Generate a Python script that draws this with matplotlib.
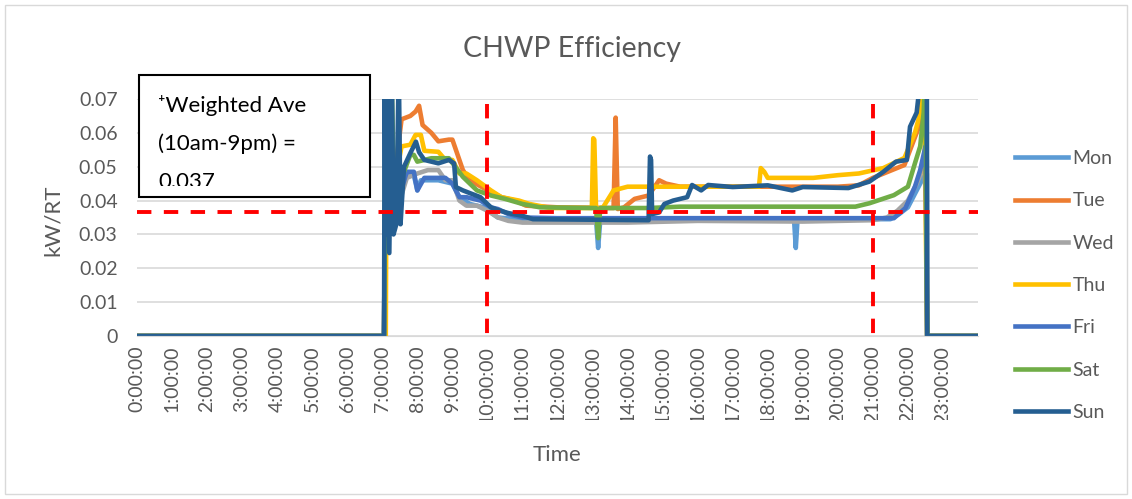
import numpy as np
import matplotlib
matplotlib.use('Agg')
import matplotlib.pyplot as plt
from matplotlib.patches import Rectangle
from matplotlib.transforms import Bbox, TransformedBbox

plt.rcParams['font.family'] = ['Lato', 'DejaVu Sans']

# time in hours, values in kW/RT (values above 0.07 are cut off by the axis)
mon_t = [0, 7.05, 7.1, 7.3, 7.5, 7.7, 7.9, 8.0, 8.1, 8.6, 9.0, 9.2, 9.5, 9.9, 10.3, 10.8, 13.1, 13.16, 13.22,
         18.75, 18.8, 18.85, 21.5, 21.75, 22.0, 22.25, 22.45, 22.54, 22.55, 24]
mon_v = [0, 0, 0.03, 0.036, 0.043, 0.0475, 0.0475, 0.043, 0.046, 0.046, 0.045, 0.041, 0.039, 0.038, 0.035, 0.0345,
         0.0343, 0.026, 0.0343, 0.0345, 0.026, 0.0345, 0.0345, 0.036, 0.038, 0.043, 0.047, 0.048, 0, 0]

tue_t = [0, 7.05, 7.1, 7.2, 7.55, 7.8, 7.95, 8.05, 8.15, 8.4, 8.6, 8.9, 9.0, 9.3, 9.45, 9.7, 10.1, 10.4, 10.8,
         11.1, 12.0, 13.6, 13.66, 13.72, 13.9, 14.2, 14.6, 14.9, 15.1, 15.5, 20.0, 20.6, 21.0, 21.9, 22.2,
         22.35, 22.5, 22.55, 24]
tue_v = [0, 0, 0.08, 0.035, 0.064, 0.065, 0.0663, 0.068, 0.0623, 0.060, 0.0575, 0.058, 0.058, 0.049, 0.0467,
         0.0448, 0.0425, 0.041, 0.040, 0.0385, 0.038, 0.0378, 0.0645, 0.0375, 0.038, 0.0405, 0.0415, 0.046,
         0.045, 0.0441, 0.0441, 0.0445, 0.0467, 0.0505, 0.0587, 0.0627, 0.08, 0, 0]

wed_t = [0, 7.05, 7.1, 7.2, 7.5, 7.7, 8.0, 8.3, 8.6, 8.8, 9.0, 9.2, 9.4, 9.7, 10.0, 10.3, 10.6, 11.0, 14.0,
         16.0, 19.0, 21.0, 21.4, 21.7, 22.0, 22.25, 22.45, 22.54, 22.55, 24]
wed_v = [0, 0, 0.08, 0.03, 0.04, 0.0467, 0.048, 0.049, 0.049, 0.046, 0.046, 0.040, 0.0385, 0.0385, 0.037,
         0.035, 0.034, 0.0335, 0.0335, 0.034, 0.0338, 0.0342, 0.035, 0.037, 0.040, 0.045, 0.050, 0.052, 0, 0]

thu_t = [0, 7.1, 7.13, 7.35, 7.55, 7.8, 7.95, 8.1, 8.2, 8.6, 8.8, 9.0, 9.2, 9.4, 9.7, 10.1, 10.4, 10.9, 11.2,
         11.8, 12.98, 13.02, 13.05, 13.1, 13.3, 13.6, 14.0, 17.75, 17.8, 17.9, 18.0, 19.3, 20.0, 20.6, 21.3,
         21.9, 22.2, 22.35, 22.45, 22.55, 24]
thu_v = [0, 0, 0.08, 0.045, 0.056, 0.0565, 0.0594, 0.0594, 0.0547, 0.0544, 0.052, 0.052, 0.048, 0.048, 0.046,
         0.043, 0.041, 0.040, 0.039, 0.0378, 0.0378, 0.0584, 0.058, 0.0375, 0.038, 0.043, 0.0441, 0.0441,
         0.0496, 0.0485, 0.0467, 0.0467, 0.0475, 0.048, 0.0496, 0.0526, 0.060, 0.0659, 0.08, 0, 0]

fri_t = [0, 7.05, 7.1, 7.2, 7.45, 7.7, 7.9, 8.0, 8.2, 8.8, 9.0, 9.2, 9.4, 9.8, 10.1, 10.3, 10.6, 11.0, 12.0,
         21.6, 21.93, 22.2, 22.35, 22.5, 22.55, 24]
fri_v = [0, 0, 0.08, 0.03, 0.04, 0.0485, 0.0485, 0.043, 0.0467, 0.0467, 0.045, 0.041, 0.041, 0.040, 0.038,
         0.0375, 0.036, 0.035, 0.0348, 0.0348, 0.0378, 0.0441, 0.049, 0.056, 0, 0]

sat_t = [0, 7.05, 7.1, 7.2, 7.26, 7.35, 7.6, 7.8, 7.9, 8.0, 8.4, 8.9, 9.3, 9.7, 10.1, 10.5, 11.0, 11.5, 13.1,
         13.16, 13.22, 14.6, 15.5, 20.5, 20.9, 21.6, 22.0, 22.2, 22.35, 22.45, 22.5, 22.55, 24]
sat_v = [0, 0, 0.08, 0.03, 0.08, 0.035, 0.048, 0.0535, 0.0535, 0.0515, 0.0525, 0.0525, 0.047, 0.043, 0.0415,
         0.0405, 0.039, 0.038, 0.0378, 0.0289, 0.0378, 0.0378, 0.0382, 0.0382, 0.0392, 0.0416, 0.0441, 0.051,
         0.056, 0.066, 0.08, 0, 0]

sun_t = [0, 7.05, 7.07, 7.09, 7.11, 7.2, 7.27, 7.32, 7.4, 7.47, 7.52, 7.62, 7.8, 7.96, 8.05, 8.2, 8.6, 8.9,
         9.05, 9.1, 9.3, 9.8, 10.1, 10.3, 10.6, 11.0, 11.3, 14.6, 14.64, 14.67, 14.7, 14.9, 15.05, 15.3,
         15.7, 15.84, 16.1, 16.3, 17.0, 18.0, 18.7, 19.0, 20.3, 20.9, 21.3, 21.66, 21.97, 22.06, 22.25, 22.4,
         22.54, 22.55, 24]
sun_v = [0, 0, 0.08, 0.03, 0.08, 0.0245, 0.08, 0.03, 0.033, 0.08, 0.033, 0.05, 0.054, 0.0574, 0.0543, 0.052,
         0.051, 0.052, 0.051, 0.044, 0.043, 0.041, 0.038, 0.0372, 0.0363, 0.0355, 0.0345, 0.0342, 0.053, 0.052,
         0.036, 0.0365, 0.039, 0.040, 0.041, 0.0446, 0.043, 0.0446, 0.044, 0.0445, 0.043, 0.044, 0.0437, 0.0456,
         0.0485, 0.0515, 0.052, 0.0618, 0.066, 0.08, 0.08, 0, 0]

days = ['Mon', 'Tue', 'Wed', 'Thu', 'Fri', 'Sat', 'Sun']
colors = ['#5B9BD5', '#ED7D31', '#A5A5A5', '#FFC000', '#4472C4', '#70AD47', '#255E91']
series = [(mon_t, mon_v), (tue_t, tue_v), (wed_t, wed_v), (thu_t, thu_v),
          (fri_t, fri_v), (sat_t, sat_v), (sun_t, sun_v)]

weighted_ave = 0.0366
window = [10, 21]
hours = list(range(24))
hour_labels = ['%d:00:00' % h for h in hours]

W, H = 1132, 499
fig = plt.figure(figsize=(W / 100, H / 100), dpi=100)
ax = fig.add_axes([137 / W, 1 - 336 / H, (978 - 137) / W, (336 - 99) / H])

grey = '#595959'
lines = []
for (t, v), d, c in zip(series, days, colors):
    ln, = ax.plot(t, v, color=c, lw=3.3, label=d)
    lines.append(ln)

# red reference lines
ax.axhline(weighted_ave, color='red', lw=2.8, dashes=(3.7, 3.2), zorder=5)
for x in window:
    ax.plot([x, x], [0.0685, 0], color='red', lw=2.8, dashes=(3.7, 3.2), zorder=5)

ax.set_xlim(0, 24)
ax.set_ylim(0, 0.07)
ax.set_yticks(np.arange(0, 0.071, 0.01))
ax.set_yticklabels(['0'] + ['%.2f' % y for y in np.arange(0.01, 0.071, 0.01)])
ax.set_xticks(hours)
ax.set_xticklabels(hour_labels, rotation=90)
ax.yaxis.grid(True, color='#D9D9D9', lw=1.2)
ax.set_axisbelow(True)
for s in ['top', 'right', 'left']:
    ax.spines[s].set_visible(False)
ax.spines['bottom'].set_color('#D9D9D9')
ax.tick_params(axis='both', length=0, labelsize=14, colors=grey)
ax.tick_params(axis='y', pad=14)
ax.tick_params(axis='x', pad=7)

# long labels are cut at the bottom, as in the original
clip = TransformedBbox(Bbox([[0, 1 - 420 / H], [1, 1]]), fig.transFigure)
for lab in ax.get_xticklabels():
    lab.set_clip_box(clip)
    lab.set_clip_on(True)

fig.text(572 / W, 1 - 57 / H, 'CHWP Efficiency', ha='center', va='baseline', fontsize=20.5, color=grey)
fig.text(557 / W, 1 - 455 / H, 'Time', ha='center', va='center', fontsize=16, color=grey)
fig.text(53 / W, 1 - 220 / H, 'kW/RT', ha='center', va='center', rotation=90, fontsize=16, color=grey)

# annotation box
box = Rectangle((139 / W, 1 - 197 / H), (370 - 139) / W, (197 - 75) / H, transform=fig.transFigure,
                facecolor='white', edgecolor='black', lw=1.5, zorder=6)
fig.add_artist(box)
box_lines = ['\u207aWeighted Ave', '(10am-9pm) =', '0.037']
box_clip = TransformedBbox(Bbox([[0, 1 - 186 / H], [1, 1]]), fig.transFigure)
for i, s in enumerate(box_lines):
    t = fig.text(158 / W, 1 - (111.7 + 38.4 * i) / H, s, ha='left', va='baseline', fontsize=16,
                 color='black', zorder=7)
    if i == 2:
        t.set_clip_box(box_clip)
        t.set_clip_on(True)

leg = fig.legend(lines, days, loc='center left', bbox_to_anchor=(1015 / W, 1 - 285.5 / H), frameon=False,
                 fontsize=14, handlelength=2.7, handletextpad=0.25, labelspacing=1.3, borderpad=0,
                 borderaxespad=0)
for txt in leg.get_texts():
    txt.set_color(grey)

# chart border
fig.add_artist(Rectangle((5 / W, 5 / H), (W - 10) / W, (H - 10) / H, transform=fig.transFigure,
                         fill=False, edgecolor='#D9D9D9', lw=1))

fig.savefig('out.png', dpi=100)
